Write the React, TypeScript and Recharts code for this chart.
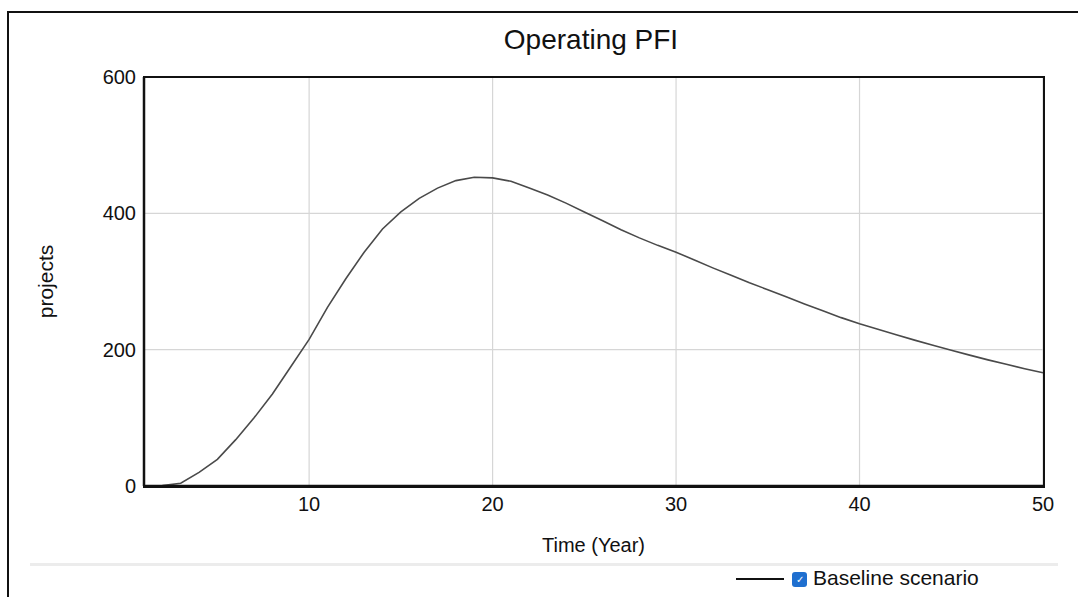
import type { FC } from "react";
import { CartesianGrid, Line, LineChart, XAxis, YAxis } from "recharts";

// Time axis (years) and the simulated "Operating PFI" stock.
const years = [
  1, 2, 3, 4, 5, 6, 7, 8, 9, 10, 11, 12, 13, 14, 15, 16, 17, 18, 19, 20, 21,
  22, 23, 24, 25, 26, 27, 28, 29, 30, 31, 32, 33, 34, 35, 36, 37, 38, 39, 40,
  41, 42, 43, 44, 45, 46, 47, 48, 49, 50,
];
const operatingPfi = [
  0, 0.5, 4, 20, 39, 68, 100, 135, 175, 215, 262, 304, 343, 377, 402, 422, 437,
  448, 453, 452, 447, 437, 427, 415, 402, 389, 376, 364, 353, 343, 331.5, 320,
  309, 298, 288, 277.5, 267, 257, 247, 238, 230, 222, 214, 206.5, 199, 192,
  185, 178.5, 172, 166,
];
const xTicks = [10, 20, 30, 40, 50];
const yTicks = [0, 200, 400, 600];

const seriesName = "Baseline scenario";
const FONT = '"Liberation Sans", Arial, sans-serif';

const data = years.map((t, i) => ({ t, value: operatingPfi[i] }));

// plot box edges (px) - used both for chart margins and the black frame
const PLOT = { left: 144, top: 77, right: 1043, bottom: 486 };

const App: FC = () => {
  return (
    <div
      style={{
        position: "absolute",
        left: 0,
        top: 0,
        width: 1078,
        height: 597,
        overflow: "hidden",
        background: "#fff",
        fontFamily: FONT,
        color: "#111",
      }}
    >
      {/* outer frame, runs off the right and bottom edges */}
      <div
        style={{
          position: "absolute",
          left: 7,
          top: 11,
          width: 1200,
          height: 700,
          border: "2px solid #111",
        }}
      />
      <div
        style={{
          position: "absolute",
          left: 0,
          width: 1078,
          top: 24,
          textAlign: "center",
          fontSize: 28,
          paddingLeft: 104,
          boxSizing: "border-box",
        }}
      >
        Operating PFI
      </div>
      <div style={{ position: "absolute", left: 0, top: 0 }}>
        <LineChart
          width={1078}
          height={597}
          data={data}
          margin={{
            top: PLOT.top,
            right: 1078 - PLOT.right,
            bottom: 597 - PLOT.bottom - 49,
            left: PLOT.left - 60,
          }}
        >
          <CartesianGrid stroke="#d6d6d6" strokeWidth={1.2} />
          <XAxis
            dataKey="t"
            type="number"
            domain={[1, 50]}
            ticks={xTicks}
            tickLine={false}
            tickSize={0}
            tickMargin={11}
            axisLine={{ stroke: "#111", strokeWidth: 2.5 }}
            tick={{ fontSize: 20, fill: "#111", fontFamily: FONT }}
            height={49}
            label={{
              value: "Time (Year)",
              position: "insideBottom",
              offset: -17,
              fontSize: 20,
              fill: "#111",
              fontFamily: FONT,
            }}
          />
          <YAxis
            type="number"
            domain={[0, 600]}
            ticks={yTicks}
            tickLine={false}
            tickSize={0}
            tickMargin={8}
            axisLine={{ stroke: "#111", strokeWidth: 2.5 }}
            tick={{ fontSize: 20, fill: "#111", fontFamily: FONT }}
            width={60}
            label={{
              value: "projects",
              angle: -90,
              position: "insideLeft",
              offset: -38,
              fontSize: 21,
              fill: "#111",
              fontFamily: FONT,
              style: { textAnchor: "middle" },
            }}
          />
          <Line
            type="linear"
            dataKey="value"
            name={seriesName}
            stroke="#4a4a4a"
            strokeWidth={1.6}
            dot={false}
            isAnimationActive={false}
          />
        </LineChart>
      </div>
      {/* black box around the plot area */}
      <div
        style={{
          position: "absolute",
          left: PLOT.left - 1,
          top: PLOT.top - 1,
          width: PLOT.right - PLOT.left - 1,
          height: PLOT.bottom - PLOT.top - 1,
          border: "2px solid #111",
          pointerEvents: "none",
        }}
      />
      <div
        style={{
          position: "absolute",
          left: 30,
          top: 563,
          width: 1028,
          height: 3,
          background: "#ececec",
        }}
      />
      {/* legend */}
      <div
        style={{
          position: "absolute",
          left: 736,
          top: 578,
          width: 48,
          height: 2,
          background: "#111",
        }}
      />
      <div
        style={{
          position: "absolute",
          left: 792,
          top: 572,
          width: 15,
          height: 15,
          borderRadius: 3,
          background: "#1f6fcf",
          color: "#fff",
          fontSize: 10,
          lineHeight: "15px",
          textAlign: "center",
        }}
      >
        ✓
      </div>
      <div
        style={{
          position: "absolute",
          left: 813,
          top: 566,
          fontSize: 21,
          whiteSpace: "nowrap",
        }}
      >
        {seriesName}
      </div>
    </div>
  );
};

export default App;
